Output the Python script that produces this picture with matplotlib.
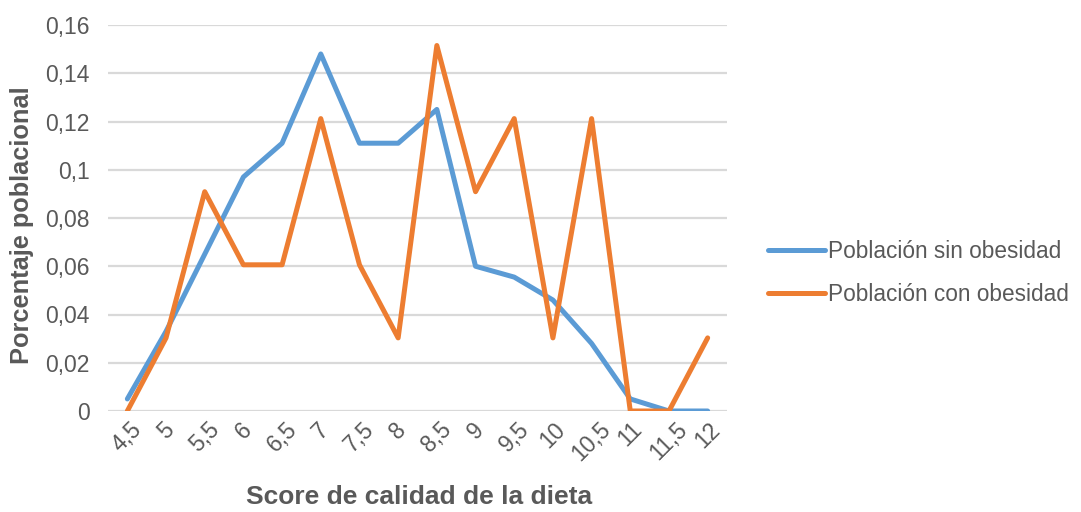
import matplotlib.pyplot as plt
import matplotlib.transforms as mtransforms

plt.rcParams['font.family'] = ['Liberation Sans', 'DejaVu Sans']

categories = ["4,5", "5", "5,5", "6", "6,5", "7", "7,5", "8", "8,5", "9",
              "9,5", "10", "10,5", "11", "11,5", "12"]
sin_obesidad = [0.005, 0.033, 0.065, 0.097, 0.111, 0.148, 0.111, 0.111, 0.125, 0.060,
                0.0555, 0.046, 0.028, 0.005, 0.0, 0.0]
con_obesidad = [0.0, 0.0303, 0.0909, 0.0606, 0.0606, 0.1212, 0.0606, 0.0303, 0.1515, 0.0909,
                0.1212, 0.0303, 0.1212, 0.0, 0.0, 0.0303]
y_ticks = [0, 0.02, 0.04, 0.06, 0.08, 0.1, 0.12, 0.14, 0.16]
y_labels = ["0", "0,02", "0,04", "0,06", "0,08", "0,1", "0,12", "0,14", "0,16"]

text_color = "#595959"

fig = plt.figure(figsize=(10.81, 5.12), dpi=100)
ax = fig.add_axes([108 / 1081, 1 - 411 / 512, 619 / 1081, 386 / 512])

x = range(len(categories))
ax.plot(x, sin_obesidad, color="#5B9BD5", linewidth=3.6, solid_capstyle="round",
        label="Población sin obesidad", zorder=3)
ax.plot(x, con_obesidad, color="#ED7D31", linewidth=3.6, solid_capstyle="round",
        label="Población con obesidad", zorder=3)

ax.set_xlim(-0.5, len(categories) - 0.5)
ax.set_ylim(0, 0.16)
ax.set_yticks(y_ticks)
ax.set_yticklabels(y_labels)
ax.set_xticks(list(x))
ax.set_xticklabels(categories, rotation=45, ha="center")
offset = mtransforms.ScaledTranslation(-5 / 100, -4 / 100, fig.dpi_scale_trans)
for lbl in ax.get_xticklabels():
    lbl.set_transform(lbl.get_transform() + offset)

ax.tick_params(axis="both", length=0, labelsize=16.5, colors=text_color)
ax.tick_params(axis="y", pad=13)
ax.tick_params(axis="x", pad=5)
ax.grid(axis="y", color="#D9D9D9", linewidth=1.6)
ax.set_axisbelow(True)
for s in ax.spines.values():
    s.set_visible(False)

fig.text(22 / 1081, 1 - 225 / 512, "Porcentaje poblacional", fontsize=18.3, fontweight="bold",
         color=text_color, ha="center", va="center", rotation=90)
fig.text(419 / 1081, 1 - 497 / 512, "Score de calidad de la dieta", fontsize=19, fontweight="bold",
         color=text_color, ha="center", va="center")

leg = fig.legend(loc="center left", bbox_to_anchor=(748 / 1081, 1 - 273 / 512), frameon=False,
                 fontsize=16.3, handlelength=2.5, handletextpad=0.15, labelspacing=0.9)
for t in leg.get_texts():
    t.set_color(text_color)

fig.savefig("out.png", dpi=100)
